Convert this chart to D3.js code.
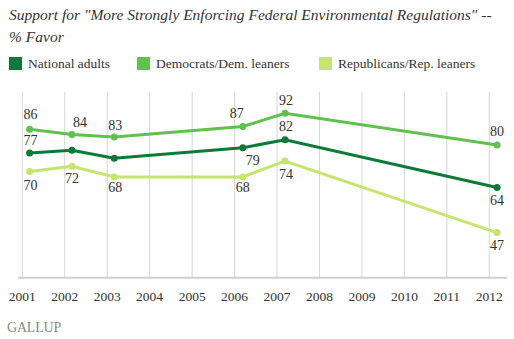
<!DOCTYPE html>
<html>
<head>
<meta charset="utf-8">
<script src="https://cdn.jsdelivr.net/npm/d3@7"></script>
<style>
  body { margin: 0; background: #fff; }
  text { font-family: "Liberation Serif", Georgia, serif; }
</style>
</head>
<body>
<div id="viz"></div>
<script>
// Datos del grafico
var fechas = ['2001-03-05', '2002-03-04', '2003-03-03', '2006-03-13', '2007-03-11', '2012-03-08'];
var nacional = [77, 78, 75, 79, 82, 64];
var democratas = [86, 84, 83, 87, 92, 80];
var republicanos = [70, 72, 68, 68, 74, 47];
var anios = [2001, 2002, 2003, 2004, 2005, 2006, 2007, 2008, 2009, 2010, 2011, 2012];
var series = ['National adults', 'Democrats/Dem. leaners', 'Republicans/Rep. leaners'];
var colores = ['#0b7a37', '#60c24e', '#c4e66e'];
var titulo = ['Support for "More Strongly Enforcing Federal Environmental Regulations" --', '% Favor'];

// Que etiquetas se muestran y donde (dx, dy respecto del punto)
var etiquetasNac = [[1, -8], null, null, [10, 17], [1, -9], [0, 17]];
var etiquetasDem = [[1, -10], [8, -7], [1, -7], [-6, -8], [1, -8], [0, -9]];
var etiquetasRep = [[1, 18], [0, 17], [1, 15], [0, 15], [1, 18], [0, 17]];

var width = 514, height = 339;
var svg = d3.select('#viz').append('svg')
  .attr('width', width)
  .attr('height', height);

var parse = d3.timeParse('%Y-%m-%d');

// Escalas
var x = d3.scaleTime()
  .domain([new Date(2001, 0, 1), new Date(2012, 0, 1)])
  .range([22.3, 489.3]);
var y = d3.scaleLinear()
  .domain([30, 100])
  .range([277.7, 92]);

// Titulo
svg.selectAll('.titulo').data(titulo).enter().append('text')
  .attr('x', 9)
  .attr('y', function(d, i){ return 20 + i * 22; })
  .style('font-style', 'italic')
  .style('font-size', '15.5px')
  .style('fill', '#333')
  .text(function(d){ return d; });

// Leyenda
var posLeyenda = [9, 137, 319];
var gLeyenda = svg.append('g');
for (var i = 0; i < series.length; i++) {
  gLeyenda.append('rect')
    .attr('x', posLeyenda[i])
    .attr('y', 57)
    .attr('width', 13)
    .attr('height', 13)
    .style('fill', colores[i]);
  gLeyenda.append('text')
    .attr('x', posLeyenda[i] + 19)
    .attr('y', 68)
    .style('font-size', '13.5px')
    .style('fill', '#333')
    .text(series[i]);
}

// Lineas verticales de la grilla
svg.append('g').selectAll('line').data(anios).enter().append('line')
  .attr('x1', function(d){ return x(new Date(d, 0, 1)); })
  .attr('x2', function(d){ return x(new Date(d, 0, 1)); })
  .attr('y1', y(100))
  .attr('y2', y(30))
  .attr('stroke', '#d6d6d6')
  .attr('stroke-width', 1);

// Eje x
svg.append('line')
  .attr('x1', 18).attr('x2', 507)
  .attr('y1', y(30)).attr('y2', y(30))
  .attr('stroke', '#d0d0cc')
  .attr('stroke-width', 2);

svg.append('g').selectAll('text').data(anios).enter().append('text')
  .attr('x', function(d){ return x(new Date(d, 0, 1)); })
  .attr('y', 301)
  .attr('text-anchor', 'middle')
  .style('font-size', '13.5px')
  .style('fill', '#333')
  .text(function(d){ return d; });

// Dibujo cada serie
var datos = [nacional, democratas, republicanos];
var etiquetas = [etiquetasNac, etiquetasDem, etiquetasRep];
var linea = d3.line()
  .x(function(d, i){ return x(parse(fechas[i])); })
  .y(function(d){ return y(d); });

var orden = [2, 1, 0];
orden.forEach(function(s){
  var g = svg.append('g');
  g.append('path')
    .datum(datos[s])
    .attr('d', linea)
    .attr('fill', 'none')
    .attr('stroke', colores[s])
    .attr('stroke-width', 3);
  g.selectAll('circle').data(datos[s]).enter().append('circle')
    .attr('cx', function(d, i){ return x(parse(fechas[i])); })
    .attr('cy', function(d){ return y(d); })
    .attr('r', 3.5)
    .style('fill', colores[s]);
  //Etiquetas de valores (solo las que existen)
  datos[s].forEach(function(d, i){
    var off = etiquetas[s][i];
    if (off === null) return;
    g.append('text')
      .attr('x', x(parse(fechas[i])) + off[0])
      .attr('y', y(d) + off[1])
      .attr('text-anchor', 'middle')
      .style('font-size', '14px')
      .style('fill', '#333')
      .text(d);
  });
});

// Logo
svg.append('text')
  .attr('x', 7)
  .attr('y', 332)
  .style('font-size', '14px')
  .style('fill', '#888')
  .style('letter-spacing', '-0.2px')
  .text('GALLUP');
</script>
</body>
</html>
